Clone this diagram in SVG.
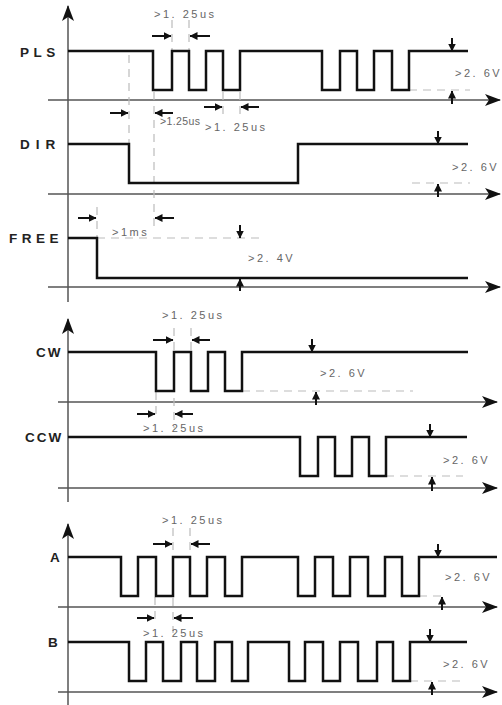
<svg xmlns="http://www.w3.org/2000/svg" width="502" height="705" viewBox="0 0 502 705">
<defs>
<style>
.sig{fill:none;stroke:#111;stroke-width:2.5;stroke-linejoin:miter}
.axis{fill:none;stroke:#555;stroke-width:1.5}
.dash{fill:none;stroke:#bbb;stroke-width:1.2;stroke-dasharray:8 6}
.arr{fill:none;stroke:#111;stroke-width:2;marker-end:url(#sa)}
.lbl{font-family:"Liberation Sans",Arial,sans-serif;font-size:13.5px;font-weight:bold;fill:#222}
.val{font-family:"Liberation Sans",Arial,sans-serif;font-size:11px;fill:#666;letter-spacing:2.5px}
</style>
<marker id="ax" viewBox="0 0 16 12" refX="15" refY="6" markerWidth="16" markerHeight="12" markerUnits="userSpaceOnUse" orient="auto">
<path d="M0,0 L16,6 L0,12 L4,6 Z" fill="#111"/>
</marker>
<marker id="sa" viewBox="0 0 8 8" refX="7.5" refY="4" markerWidth="8" markerHeight="8" markerUnits="userSpaceOnUse" orient="auto">
<path d="M0,0 L8,4 L0,8 Z" fill="#111"/>
</marker>
</defs>
<rect width="502" height="705" fill="#fff"/>

<g id="connectors">
<line class="axis" x1="68" y1="302" x2="68" y2="6" marker-end="url(#ax)"/>
<line class="axis" x1="48" y1="100" x2="500" y2="100" marker-end="url(#ax)"/>
<line class="axis" x1="48" y1="194" x2="500" y2="194" marker-end="url(#ax)"/>
<line class="axis" x1="48" y1="287" x2="500" y2="287" marker-end="url(#ax)"/>
<line class="axis" x1="68" y1="502" x2="68" y2="319" marker-end="url(#ax)"/>
<line class="axis" x1="58" y1="402" x2="497" y2="402" marker-end="url(#ax)"/>
<line class="axis" x1="58" y1="488" x2="497" y2="488" marker-end="url(#ax)"/>
<line class="axis" x1="68" y1="705" x2="68" y2="524" marker-end="url(#ax)"/>
<line class="axis" x1="58" y1="607" x2="497" y2="607" marker-end="url(#ax)"/>
<line class="axis" x1="58" y1="692" x2="497" y2="692" marker-end="url(#ax)"/>

<line class="dash" x1="172" y1="20" x2="172" y2="51"/>
<line class="dash" x1="189" y1="20" x2="189" y2="51"/>
<line class="dash" x1="129" y1="55" x2="129" y2="144"/>
<line class="dash" x1="154" y1="92" x2="154" y2="232"/>
<line class="dash" x1="223" y1="92" x2="223" y2="118"/>
<line class="dash" x1="240" y1="92" x2="240" y2="116"/>
<line class="dash" x1="409" y1="90" x2="470" y2="90"/>
<line class="dash" x1="412" y1="183" x2="470" y2="183"/>
<line class="dash" x1="97" y1="207" x2="97" y2="238"/>
<line class="dash" x1="97" y1="238" x2="264" y2="238"/>
<line class="dash" x1="174" y1="328" x2="174" y2="428"/>
<line class="dash" x1="191" y1="328" x2="191" y2="352"/>
<line class="dash" x1="156" y1="392" x2="156" y2="418"/>
<line class="dash" x1="242" y1="391" x2="413" y2="391"/>
<line class="dash" x1="386" y1="476" x2="463" y2="476"/>
<line class="dash" x1="173" y1="528" x2="173" y2="633"/>
<line class="dash" x1="190" y1="528" x2="190" y2="557"/>
<line class="dash" x1="155" y1="597" x2="155" y2="622"/>
<line class="dash" x1="419" y1="596" x2="447" y2="596"/>
<line class="dash" x1="410" y1="681" x2="465" y2="681"/>

<line class="arr" x1="152" y1="36" x2="171" y2="36"/>
<line class="arr" x1="210" y1="36" x2="190" y2="36"/>
<line class="arr" x1="110" y1="113" x2="128" y2="113"/>
<line class="arr" x1="173" y1="113" x2="155" y2="113"/>
<line class="arr" x1="204" y1="107" x2="222" y2="107"/>
<line class="arr" x1="259" y1="107" x2="241" y2="107"/>
<line class="arr" x1="78" y1="218" x2="96" y2="218"/>
<line class="arr" x1="174" y1="218" x2="155" y2="218"/>
<line class="arr" x1="452" y1="38" x2="452" y2="51"/>
<line class="arr" x1="452" y1="104" x2="452" y2="91"/>
<line class="arr" x1="438" y1="131" x2="438" y2="144"/>
<line class="arr" x1="438" y1="197" x2="438" y2="184"/>
<line class="arr" x1="240" y1="225" x2="240" y2="238"/>
<line class="arr" x1="240" y1="291" x2="240" y2="279"/>
<line class="arr" x1="153" y1="340" x2="173" y2="340"/>
<line class="arr" x1="210" y1="340" x2="192" y2="340"/>
<line class="arr" x1="137" y1="414" x2="155" y2="414"/>
<line class="arr" x1="193" y1="414" x2="175" y2="414"/>
<line class="arr" x1="312" y1="339" x2="312" y2="352"/>
<line class="arr" x1="316" y1="405" x2="316" y2="392"/>
<line class="arr" x1="430" y1="424" x2="430" y2="437"/>
<line class="arr" x1="432" y1="491" x2="432" y2="477"/>
<line class="arr" x1="153" y1="544" x2="172" y2="544"/>
<line class="arr" x1="210" y1="544" x2="191" y2="544"/>
<line class="arr" x1="137" y1="618" x2="154" y2="618"/>
<line class="arr" x1="193" y1="618" x2="174" y2="618"/>
<line class="arr" x1="438" y1="544" x2="438" y2="557"/>
<line class="arr" x1="442" y1="610" x2="442" y2="597"/>
<line class="arr" x1="430" y1="629" x2="430" y2="642"/>
<line class="arr" x1="432" y1="695" x2="432" y2="682"/>
</g>

<g id="PLS">
<text class="lbl" x="20" y="57" style="letter-spacing:4.5px">PLS</text>
<path class="sig" d="M68,51 H153 V90 H172 V51 H189 V90 H206 V51 H223 V90 H240 V51 H322 V90 H340 V51 H357 V90 H374 V51 H392 V90 H409 V51 H468"/>
<text class="val" x="154" y="18">&gt;1. 25us</text>
<text class="val" x="160" y="125" style="font-size:10.5px;letter-spacing:0.4px">&gt;1.25us</text>
<text class="val" x="205" y="131">&gt;1. 25us</text>
<text class="val" x="455" y="77">&gt;2. 6V</text>
</g>

<g id="DIR">
<text class="lbl" x="20" y="149" style="letter-spacing:6px">DIR</text>
<path class="sig" d="M68,144 H129 V183 H298 V144 H468"/>
<text class="val" x="452" y="171">&gt;2. 6V</text>
</g>

<g id="FREE">
<text class="lbl" x="9" y="243" style="letter-spacing:4.5px">FREE</text>
<path class="sig" d="M68,238 H97 V278 H468"/>
<text class="val" x="112" y="236">&gt;1ms</text>
<text class="val" x="248" y="262">&gt;2. 4V</text>
</g>

<g id="CW">
<text class="lbl" x="36" y="357" style="letter-spacing:2px">CW</text>
<path class="sig" d="M68,352 H156 V391 H174 V352 H191 V391 H208 V352 H225 V391 H242 V352 H468"/>
<text class="val" x="162" y="319">&gt;1. 25us</text>
<text class="val" x="143" y="432">&gt;1. 25us</text>
<text class="val" x="320" y="377">&gt;2. 6V</text>
</g>

<g id="CCW">
<text class="lbl" x="25" y="442" style="letter-spacing:2px">CCW</text>
<path class="sig" d="M68,437 H300 V476 H318 V437 H335 V476 H352 V437 H369 V476 H386 V437 H467"/>
<text class="val" x="443" y="464">&gt;2. 6V</text>
</g>

<g id="A">
<text class="lbl" x="50" y="562">A</text>
<path class="sig" d="M68,557 H121 V596 H138 V557 H156 V596 H173 V557 H190 V596 H207 V557 H225 V596 H242 V557 H298 V596 H315 V557 H333 V596 H350 V557 H368 V596 H385 V557 H402 V596 H419 V557 H497"/>
<text class="val" x="162" y="524">&gt;1. 25us</text>
<text class="val" x="143" y="637">&gt;1. 25us</text>
<text class="val" x="445" y="581">&gt;2. 6V</text>
</g>

<g id="B">
<text class="lbl" x="48" y="647">B</text>
<path class="sig" d="M68,642 H129 V681 H146 V642 H163 V681 H181 V642 H197 V681 H215 V642 H232 V681 H248 V642 H289 V681 H305 V642 H323 V681 H340 V642 H358 V681 H377 V642 H393 V681 H410 V642 H467"/>
<text class="val" x="443" y="668">&gt;2. 6V</text>
</g>
</svg>
